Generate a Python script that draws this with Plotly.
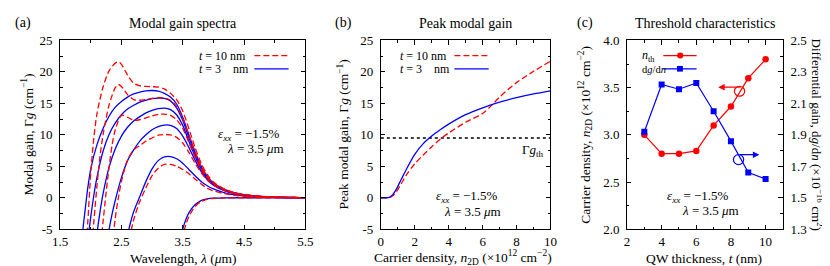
import plotly.graph_objects as go

W, H = 830, 266
FONT = "Liberation Serif"

# ---------------- data: panel (a) modal gain spectra ----------------
# t = 3 nm (blue, solid)
lam_b1 = [1.85, 1.9, 1.95, 2.0, 2.1, 2.2, 2.3, 2.4, 2.5, 2.6, 2.7, 2.8, 2.9, 3.0, 3.1, 3.2, 3.3, 3.4, 3.5, 3.6, 3.7, 3.8, 3.9, 4.0, 4.2, 4.4, 4.7, 5.0, 5.5]
g_b1 = [-6.8, -2.6, 1.5, 4.6, 8.4, 11.0, 13.0, 14.4, 15.3, 16.0, 16.5, 16.8, 17.0, 17.05, 16.95, 16.6, 16.0, 14.9, 12.8, 10.0, 7.3, 5.0, 3.4, 2.3, 1.2, 0.65, 0.25, 0.1, 0.02]
lam_b2 = [1.95, 2.0, 2.05, 2.1, 2.2, 2.3, 2.4, 2.5, 2.6, 2.7, 2.8, 2.9, 3.0, 3.1, 3.2, 3.3, 3.4, 3.5, 3.6, 3.7, 3.8, 3.9, 4.0, 4.2, 4.4, 4.7, 5.0, 5.5]
g_b2 = [-6.8, -3.0, 0.4, 3.2, 7.4, 10.1, 11.9, 13.2, 14.1, 14.7, 15.2, 15.5, 15.75, 15.85, 15.8, 15.4, 14.3, 12.3, 9.6, 7.0, 4.8, 3.3, 2.3, 1.2, 0.6, 0.25, 0.1, 0.02]
lam_b3 = [2.05, 2.1, 2.15, 2.2, 2.3, 2.4, 2.5, 2.6, 2.7, 2.8, 2.9, 3.0, 3.1, 3.2, 3.3, 3.4, 3.5, 3.6, 3.7, 3.8, 3.9, 4.0, 4.2, 4.4, 4.7, 5.0, 5.5]
g_b3 = [-10.5, -5.8, -2.3, 0.6, 4.9, 7.8, 9.8, 11.2, 12.2, 12.9, 13.5, 13.9, 14.15, 14.25, 14.0, 13.2, 11.5, 9.0, 6.6, 4.6, 3.1, 2.2, 1.1, 0.6, 0.25, 0.1, 0.02]
lam_b4 = [2.25, 2.3, 2.35, 2.4, 2.5, 2.6, 2.7, 2.8, 2.9, 3.0, 3.1, 3.2, 3.3, 3.4, 3.5, 3.6, 3.7, 3.8, 3.9, 4.0, 4.2, 4.4, 4.7, 5.0, 5.5]
g_b4 = [-9.0, -5.0, -2.5, -0.4, 3.2, 5.9, 7.6, 9.0, 10.0, 10.8, 11.3, 11.55, 11.5, 11.0, 9.8, 8.0, 6.0, 4.2, 2.9, 2.0, 1.05, 0.55, 0.22, 0.08, 0.02]
lam_b5 = [2.55, 2.6, 2.65, 2.7, 2.8, 2.9, 3.0, 3.1, 3.2, 3.3, 3.4, 3.5, 3.6, 3.7, 3.8, 3.9, 4.0, 4.2, 4.4, 4.7, 5.0, 5.5]
g_b5 = [-9.0, -6.0, -3.9, -2.2, 0.2, 2.6, 4.6, 5.9, 6.5, 6.55, 6.2, 5.5, 4.5, 3.5, 2.6, 1.9, 1.4, 0.75, 0.4, 0.15, 0.06, 0.01]
lam_b6 = [3.45, 3.5, 3.55, 3.6, 3.7, 3.8, 3.9, 4.0, 4.2, 4.4, 4.7, 5.0, 5.5]
g_b6 = [-7.8, -5.0, -3.5, -2.4, -1.1, -0.45, -0.18, -0.07, -0.01, 0.0, 0.0, 0.0, 0.0]

# t = 10 nm (red, dashed)
lam_r1 = [1.9, 1.95, 2.0, 2.05, 2.1, 2.2, 2.3, 2.4, 2.45, 2.5, 2.6, 2.7, 2.8, 2.9, 3.0, 3.1, 3.2, 3.3, 3.4, 3.5, 3.6, 3.7, 3.8, 3.9, 4.0, 4.2, 4.4, 4.7, 5.0, 5.5]
g_r1 = [-10.0, -4.0, 4.0, 9.5, 13.3, 17.6, 20.2, 21.4, 21.6, 21.2, 19.5, 18.2, 17.8, 17.7, 17.65, 17.6, 17.3, 16.6, 15.6, 13.8, 11.0, 8.0, 5.5, 3.7, 2.5, 1.3, 0.7, 0.28, 0.1, 0.02]
lam_r2 = [2.0, 2.05, 2.1, 2.15, 2.2, 2.3, 2.4, 2.45, 2.5, 2.6, 2.7, 2.8, 2.9, 3.0, 3.1, 3.2, 3.3, 3.4, 3.5, 3.6, 3.7, 3.8, 3.9, 4.0, 4.2, 4.4, 4.7, 5.0, 5.5]
g_r2 = [-10.0, -3.8, 1.8, 6.5, 10.0, 14.8, 17.5, 18.0, 17.7, 16.4, 15.6, 15.5, 15.6, 15.8, 15.9, 15.85, 15.5, 14.5, 12.6, 10.0, 7.3, 5.0, 3.4, 2.4, 1.25, 0.65, 0.26, 0.1, 0.02]
lam_r3 = [2.15, 2.2, 2.25, 2.3, 2.35, 2.4, 2.5, 2.6, 2.7, 2.8, 2.9, 3.0, 3.1, 3.2, 3.3, 3.4, 3.5, 3.6, 3.7, 3.8, 3.9, 4.0, 4.2, 4.4, 4.7, 5.0, 5.5]
g_r3 = [-8.5, -3.8, 0.8, 5.0, 8.5, 10.8, 13.1, 12.8, 12.3, 12.4, 12.7, 13.0, 13.25, 13.3, 13.1, 12.4, 11.0, 8.8, 6.5, 4.6, 3.2, 2.3, 1.2, 0.62, 0.25, 0.1, 0.02]
lam_r4 = [2.35, 2.4, 2.45, 2.5, 2.6, 2.7, 2.8, 2.9, 3.0, 3.1, 3.2, 3.3, 3.4, 3.5, 3.6, 3.7, 3.8, 3.9, 4.0, 4.2, 4.4, 4.7, 5.0, 5.5]
g_r4 = [-7.5, -3.2, 0.0, 2.6, 6.0, 7.6, 8.3, 9.0, 9.5, 9.95, 10.05, 10.0, 9.6, 8.7, 7.2, 5.5, 4.0, 2.8, 2.0, 1.05, 0.55, 0.22, 0.08, 0.02]
lam_r5 = [2.6, 2.65, 2.7, 2.8, 2.9, 3.0, 3.1, 3.2, 3.3, 3.4, 3.5, 3.6, 3.7, 3.8, 3.9, 4.0, 4.2, 4.4, 4.7, 5.0, 5.5]
g_r5 = [-8.0, -5.6, -3.5, -0.6, 1.6, 3.5, 4.7, 5.3, 5.3, 5.0, 4.5, 3.8, 3.0, 2.2, 1.5, 1.1, 0.6, 0.32, 0.12, 0.05, 0.01]
lam_r6 = [3.45, 3.5, 3.55, 3.6, 3.7, 3.8, 3.9, 4.0, 4.2, 4.4, 4.7, 5.0, 5.5]
g_r6 = [-9.5, -6.2, -4.3, -3.0, -1.4, -0.6, -0.25, -0.1, -0.02, 0.0, 0.0, 0.0, 0.0]

# ---------------- data: panel (b) peak modal gain ----------------
n_t3 = [0, 0.3, 0.5, 0.7, 0.9, 1.2, 1.5, 2.0, 2.5, 3.0, 3.5, 4.0, 5.0, 6.0, 7.0, 8.0, 9.0, 10.0]
gpk_t3 = [0, 0, 0.05, 0.5, 1.3, 2.9, 4.5, 6.9, 8.6, 9.8, 10.8, 11.7, 13.2, 14.3, 15.2, 15.9, 16.5, 17.0]
n_t10 = [0, 0.3, 0.5, 0.7, 0.9, 1.2, 1.5, 2.0, 2.5, 3.0, 3.5, 4.0, 5.0, 6.0, 6.5, 7.0, 8.0, 9.0, 10.0]
gpk_t10 = [0, 0, 0.02, 0.3, 0.9, 2.2, 3.6, 5.4, 6.8, 8.1, 9.3, 10.3, 12.0, 13.4, 14.6, 16.0, 18.3, 20.1, 21.7]
g_th = 9.5

# ---------------- data: panel (c) threshold characteristics ----------------
t_qw = [3, 4, 5, 6, 7, 8, 9, 10]
n_th = [3.0, 2.8, 2.8, 2.83, 3.1, 3.3, 3.6, 3.8]
dg_dn = [1.92, 2.22, 2.19, 2.23, 2.05, 1.86, 1.66, 1.62]

# ---------------- figure ----------------
def PX(x):
    return x / W


def PY(y):
    return 1 - y / H


RED = "#ff0000"
BLUE = "#0000ff"
DASH = "6px,3px"

fig = go.Figure()

red_a = [(lam_r1, g_r1), (lam_r2, g_r2), (lam_r3, g_r3), (lam_r4, g_r4), (lam_r5, g_r5), (lam_r6, g_r6)]
blue_a = [(lam_b1, g_b1), (lam_b2, g_b2), (lam_b3, g_b3), (lam_b4, g_b4), (lam_b5, g_b5), (lam_b6, g_b6)]
for lam, g in blue_a:
    fig.add_trace(go.Scatter(x=lam, y=g, xaxis="x", yaxis="y", mode="lines",
                             line=dict(color=BLUE, width=1.3, shape="spline", smoothing=0.8),
                             showlegend=False, hoverinfo="skip"))
for lam, g in red_a:
    fig.add_trace(go.Scatter(x=lam, y=g, xaxis="x", yaxis="y", mode="lines",
                             line=dict(color=RED, width=1.3, dash=DASH, shape="spline", smoothing=0.8),
                             showlegend=False, hoverinfo="skip"))

# panel b
fig.add_trace(go.Scatter(x=[0, 10], y=[g_th, g_th], xaxis="x2", yaxis="y2", mode="lines",
                         line=dict(color="black", width=1.3, dash="dot"), showlegend=False, hoverinfo="skip"))
fig.add_trace(go.Scatter(x=n_t10, y=gpk_t10, xaxis="x2", yaxis="y2", mode="lines",
                         line=dict(color=RED, width=1.3, dash=DASH, shape="spline", smoothing=0.8),
                         showlegend=False, hoverinfo="skip"))
fig.add_trace(go.Scatter(x=n_t3, y=gpk_t3, xaxis="x2", yaxis="y2", mode="lines",
                         line=dict(color=BLUE, width=1.3, shape="spline", smoothing=0.8),
                         showlegend=False, hoverinfo="skip"))

# panel c
fig.add_trace(go.Scatter(x=t_qw, y=n_th, xaxis="x3", yaxis="y3", mode="lines+markers",
                         line=dict(color=RED, width=1.2), marker=dict(symbol="circle", size=6.5, color=RED),
                         showlegend=False, hoverinfo="skip"))
fig.add_trace(go.Scatter(x=t_qw, y=dg_dn, xaxis="x3", yaxis="y4", mode="lines+markers",
                         line=dict(color=BLUE, width=1.2), marker=dict(symbol="square", size=6, color=BLUE),
                         showlegend=False, hoverinfo="skip"))

ydom = [PY(227), PY(27)]
tickfont = dict(family=FONT, size=13, color="black")


def axis(domain, anchor, rng, standoff=4, **kw):
    d = dict(domain=domain, anchor=anchor, range=rng, showline=True, linecolor="black", linewidth=1,
             ticks="inside", ticklen=4.5, tickcolor="black", tickwidth=1, mirror="ticks",
             showgrid=False, zeroline=False, tickfont=tickfont, ticklabelstandoff=standoff)
    d.update(kw)
    return d


ytick_g = dict(tickvals=[-5, 0, 5, 10, 15, 20, 25], ticktext=["-5", "0", "5", "10", "15", "20", "25"],
               minor=dict(ticks="inside", ticklen=2.5, tickcolor="black", tick0=0, dtick=2.5))

fig.update_layout(
    width=W, height=H, autosize=False, margin=dict(l=0, r=0, t=0, b=0),
    paper_bgcolor="white", plot_bgcolor="white", showlegend=False,
    font=dict(family=FONT, size=14, color="black"),
    xaxis=axis([PX(45), PX(295)], "y", [1.5, 5.5], standoff=0, tick0=1.5, dtick=1, tickformat=".1f",
               minor=dict(ticks="inside", ticklen=2.5, tickcolor="black", tick0=1.5, dtick=0.5)),
    yaxis=axis(ydom, "x", [-5, 25], **ytick_g),
    xaxis2=axis([PX(372), PX(545)], "y2", [0, 10], standoff=0, tick0=0, dtick=2,
                minor=dict(ticks="inside", ticklen=2.5, tickcolor="black", tick0=0, dtick=1)),
    yaxis2=axis(ydom, "x2", [-5, 25], **ytick_g),
    xaxis3=axis([PX(623), PX(782)], "y3", [2, 11], standoff=0, tickvals=[2, 4, 6, 8, 10],
                minor=dict(ticks="inside", ticklen=2.5, tickcolor="black", tick0=2, dtick=1)),
    yaxis3=axis(ydom, "x3", [2.0, 4.0], mirror=False, tick0=2.0, dtick=0.5, tickformat=".1f",
                minor=dict(ticks="inside", ticklen=2.5, tickcolor="black", tick0=2.0, dtick=0.25)),
    yaxis4=axis(ydom, "x3", [1.3, 2.5], overlaying="y3", side="right", mirror=False, tick0=1.3, dtick=0.2,
                tickformat=".1f",
                minor=dict(ticks="inside", ticklen=2.5, tickcolor="black", tick0=1.3, dtick=0.1)),
)

ann = []


def text(x, y, s, size=14, angle=0, xanchor="center"):
    ann.append(dict(x=PX(x), y=PY(y), xref="paper", yref="paper", text=s, showarrow=False,
                    textangle=angle, xanchor=xanchor, yanchor="middle",
                    font=dict(family=FONT, size=size, color="black")))


# panel labels and titles
text(7, 9, "(a)")
text(334, 9, "(b)")
text(580, 9, "(c)")
text(170, 9, "Modal gain spectra")
text(458, 9, "Peak modal gain")
text(703, 9, "Threshold characteristics")

# axis titles
text(170, 258, "Wavelength, <i>λ</i> (<i>μ</i>m)", size=13.5)
text(456, 257.5, "Carrier density, <i>n</i><sub>2D</sub> (×10<sup>12</sup> cm<sup>−2</sup>)", size=13.5)
text(702, 258, "QW thickness, <i>t</i> (nm)", size=13.5)
text(12, 127, "Modal gain, Γ<i>g</i> (cm<sup>−1</sup>)", size=13.5, angle=-90)
text(334, 127, "Peak modal gain, Γ<i>g</i> (cm<sup>−1</sup>)", size=13.5, angle=-90)
text(581, 127, "Carrier density, <i>n</i><sub>2D</sub> (×10<sup>12</sup> cm<sup>−2</sup>)", size=13.5, angle=-90)
text(817, 127, "Differential gain, d<i>g</i>/d<i>n</i> (×10<sup>−16</sup> cm<sup>2</sup>)", size=13, angle=90)

# in-plot notes
for (x1, y1, x2, y2) in [(238, 127, 244, 142), (460, 192, 465, 208), (695, 192, 708, 207)]:
    text(x1, y1, "<i>ε</i><sub><i>xx</i></sub> = −1.5%", size=13)
    text(x2, y2, "<i>λ</i> = 3.5 <i>μ</i>m", size=13)
text(527, 144, "Γ<i>g</i><sub>th</sub>", size=13)

# legends (a) and (b)
shapes = []
for (tx, lx0, lx1) in [(185, 243, 278), (390, 447, 482)]:
    text(tx, 43, "<i>t</i> = 10 nm", size=12, xanchor="left")
    text(tx, 57, "<i>t</i> = 3\u2007\u2007nm", size=12, xanchor="left")
    shapes.append(dict(type="line", xref="paper", yref="paper", x0=PX(lx0), x1=PX(lx1), y0=PY(43), y1=PY(43),
                       line=dict(color=RED, width=1.3, dash=DASH)))
    shapes.append(dict(type="line", xref="paper", yref="paper", x0=PX(lx0), x1=PX(lx1), y0=PY(57), y1=PY(57),
                       line=dict(color=BLUE, width=1.3)))

# legend (c)
text(636, 43, "<i>n</i><sub>th</sub>", size=12, xanchor="left")
text(636, 58, "d<i>g</i>/d<i>n</i>", size=10.5, xanchor="left")
shapes.append(dict(type="line", xref="paper", yref="paper", x0=PX(660), x1=PX(694), y0=PY(43), y1=PY(43),
                   line=dict(color=RED, width=1.2)))
shapes.append(dict(type="line", xref="paper", yref="paper", x0=PX(660), x1=PX(694), y0=PY(57), y1=PY(57),
                   line=dict(color=BLUE, width=1.2)))
shapes.append(dict(type="circle", xref="paper", yref="paper", x0=PX(674), x1=PX(680.5), y0=PY(46.2), y1=PY(39.8),
                   fillcolor=RED, line=dict(color=RED, width=0)))
shapes.append(dict(type="rect", xref="paper", yref="paper", x0=PX(674), x1=PX(680), y0=PY(60), y1=PY(54),
                   fillcolor=BLUE, line=dict(color=BLUE, width=0)))

# circle + arrow markers in (c)
shapes.append(dict(type="circle", xref="paper", yref="paper", x0=PX(732.5), x1=PX(743), y0=PY(86), y1=PY(75.5),
                   line=dict(color=RED, width=1.2)))
shapes.append(dict(type="circle", xref="paper", yref="paper", x0=PX(731.5), x1=PX(742), y0=PY(158.5), y1=PY(148),
                   line=dict(color=BLUE, width=1.2)))
ann.append(dict(x=PX(716), y=PY(76.5), xref="paper", yref="paper", ax=24, ay=0,
                text="", showarrow=True, arrowhead=2, arrowsize=1, arrowwidth=1.3, arrowcolor=RED))
ann.append(dict(x=PX(758), y=PY(148), xref="paper", yref="paper", ax=-21, ay=0,
                text="", showarrow=True, arrowhead=2, arrowsize=1, arrowwidth=1.3, arrowcolor=BLUE))

fig.update_layout(annotations=ann, shapes=shapes)
fig.write_html("out.html")
